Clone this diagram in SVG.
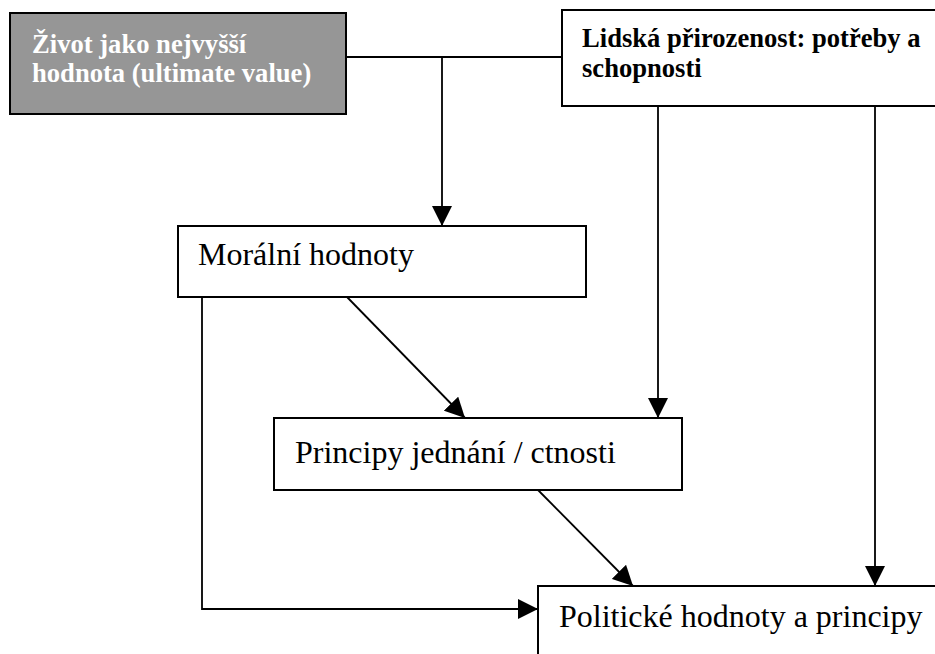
<svg xmlns="http://www.w3.org/2000/svg" width="935" height="654" viewBox="0 0 935 654">
<style>
.box{fill:#ffffff;stroke:#000000;stroke-width:2}
.gray{fill:#969696;stroke:#000000;stroke-width:2}
.conn{fill:none;stroke:#000000;stroke-width:1.8}
.bt{font-family:"Liberation Serif","Times New Roman",serif;font-weight:bold;font-size:26.6px}
.rt{font-family:"Liberation Serif","Times New Roman",serif;font-size:32px;fill:#000000}
</style>
<defs>
<marker id="arr" markerUnits="userSpaceOnUse" markerWidth="20" markerHeight="20" viewBox="0 0 20 20" refX="20" refY="10" orient="auto">
<path d="M0,0 L20,10 L0,20 Z" fill="#000000"/>
</marker>
</defs>
<rect width="935" height="654" fill="#ffffff"/>
<g id="connectors">
<path class="conn" d="M346,57 H562"/>
<path class="conn" d="M442,57 V226" marker-end="url(#arr)"/>
<path class="conn" d="M658,106 V418" marker-end="url(#arr)"/>
<path class="conn" d="M875,106 V586" marker-end="url(#arr)"/>
<path class="conn" d="M347,297 L465,418" marker-end="url(#arr)"/>
<path class="conn" d="M538,490 L633,586" marker-end="url(#arr)"/>
<path class="conn" d="M202,297 V609 H538" marker-end="url(#arr)"/>
</g>
<g id="zivot">
<rect class="gray" x="10" y="13" width="336" height="101"/>
<text class="bt" fill="#ffffff" x="32" y="53">Život jako nejvyšší</text>
<text class="bt" fill="#ffffff" x="32" y="82">hodnota (ultimate value)</text>
</g>
<g id="lidska">
<rect class="box" x="562" y="10" width="390" height="96"/>
<text class="bt" fill="#000000" x="582" y="47">Lidská přirozenost: potřeby a</text>
<text class="bt" fill="#000000" x="582" y="77">schopnosti</text>
</g>
<g id="moralni">
<rect class="box" x="178" y="226" width="408" height="71"/>
<text class="rt" x="198" y="265">Morální hodnoty</text>
</g>
<g id="principy">
<rect class="box" x="274" y="418" width="408" height="72"/>
<text class="rt" x="295" y="463">Principy jednání / ctnosti</text>
</g>
<g id="politicke">
<rect class="box" x="538" y="586" width="420" height="90"/>
<text class="rt" x="559" y="627">Politické hodnoty a principy</text>
</g>
</svg>
